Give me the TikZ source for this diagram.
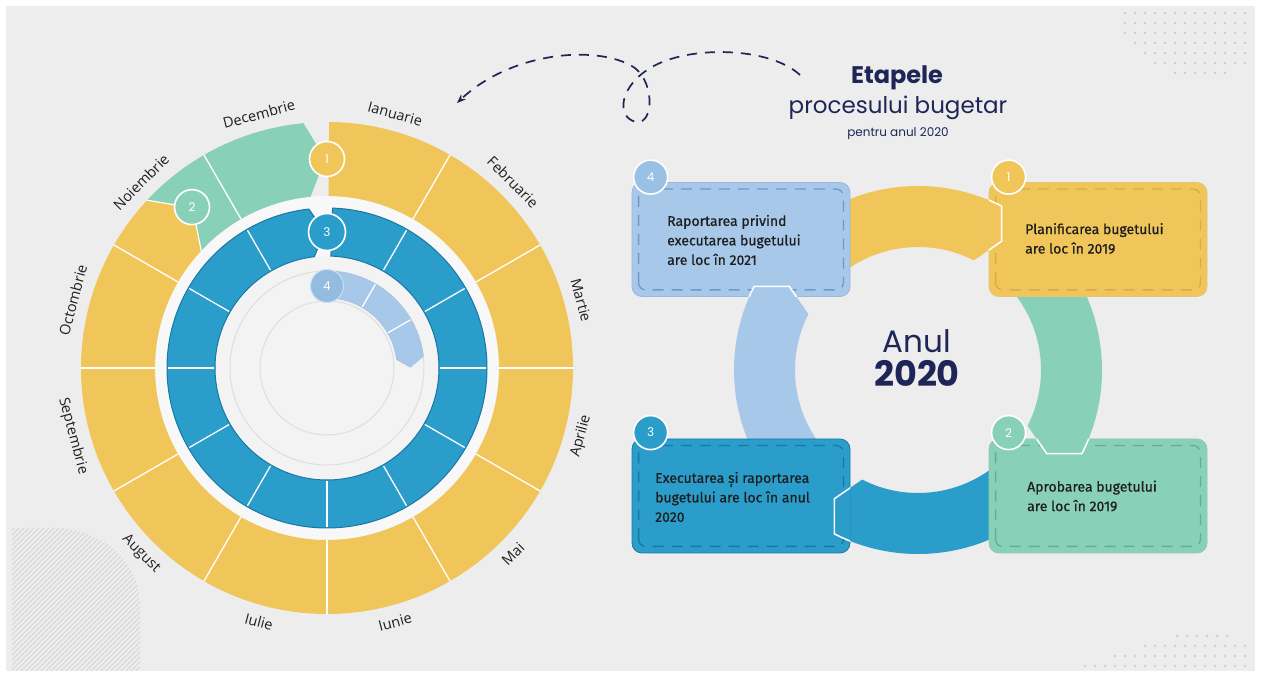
\documentclass[tikz,border=0pt]{standalone}
\usepackage{fontspec}
\usetikzlibrary{arrows.meta}
\setmainfont{Open Sans}
\newfontfamily\popfont{Poppins}
\newfontfamily\firafont{Fira Sans}[FakeBold=0.7]
\definecolor{bg}{HTML}{EDEDED}
\definecolor{yel}{HTML}{F0C65B}
\definecolor{yelb}{HTML}{D9AC3F}
\definecolor{grn}{HTML}{88D1B8}
\definecolor{grnb}{HTML}{62AE94}
\definecolor{blu}{HTML}{2A9DCB}
\definecolor{blub}{HTML}{1A78A2}
\definecolor{lbl}{HTML}{A8C8EA}
\definecolor{lblb}{HTML}{6F98CC}
\definecolor{navy}{HTML}{1D2656}
\definecolor{ringw}{HTML}{F8F8F8}
\definecolor{innerw}{HTML}{F3F3F3}
\definecolor{faint}{HTML}{DEDEDE}
\definecolor{dotcol}{HTML}{CFCFCF}
\definecolor{hatchcol}{HTML}{D4D4D4}
\definecolor{monthtxt}{HTML}{1F1F1F}
\definecolor{boxtxtc}{HTML}{1E1E1E}
\newcommand\mybandpath[2]{(#1:184) arc[start angle=#1, end angle=#2+6, radius=184] -- (#2:153.5) -- (#2+6:123) arc[start angle=#2+6, end angle=#1, radius=123] -- cycle}
\tikzset{
  month/.style={font=\fontsize{14.5}{14.5}\selectfont, text=monthtxt, inner sep=0pt},
  numc/.style={circle, minimum size=35pt, draw=white, line width=1.6pt, text=white, font=\popfont\fontsize{12}{12}\selectfont, inner sep=0pt},
  divline/.style={white, line width=1.3pt},
  boxbase/.style={rounded corners=10pt, minimum width=218pt, minimum height=114pt, line width=0.8pt, inner sep=0pt},
  innerdash/.style={rounded corners=7pt, line width=1.3pt, dash pattern=on 11pt off 8pt},
  boxtxt/.style={font=\firafont\fontsize{14}{19.5}\selectfont, align=left, anchor=west, text=boxtxtc, inner sep=0pt},
  hatch/.style={draw=hatchcol, line width=0.8pt},
  tipline/.style={draw=white, line width=1.5pt},
}
\begin{document}
\begin{tikzpicture}[x=1pt,y=1pt]
\useasboundingbox (0,0) rectangle (1261,677);
\fill[white] (0,0) rectangle (1261,677);
\fill[bg] (6,6) rectangle (1255,671);

% hatch bottom-left
\begin{scope}
  \clip (12,6) -- (12,149) -- (60,149) .. controls (110,145) and (140,110) .. (140,70) -- (140,6) -- cycle;
  \foreach \i in {-150,-145,...,145} \draw[hatch] (\i,0) -- ++(160,160);
\end{scope}

% dots
\foreach \yy/\a/\n in {664/1125/12, 654/1125/12, 644/1125/12, 634/1135/11, 624/1145/10, 614/1155/9, 604/1175/5, 41/1177/5, 31/1145/10, 21/1115/13, 11/1085/16}
  \foreach \k in {0,...,\n} \fill[dotcol] (\a+10*\k,\yy) circle[radius=1.3];

% ===== left circle =====
\begin{scope}[shift={(327,309)}]
  \fill[ringw] (0,0) circle[radius=172];
  \fill[innerw] (0,0) circle[radius=112];
  \draw[faint, line width=1pt] (0,0) circle[radius=97];
  \draw[faint, line width=1pt] (0,0) circle[radius=67];
  % blue ring (3)
  \fill[blu, draw=blub, line width=1pt] (88:160) arc[start angle=88,end angle=-263.5,radius=160] -- (-269:136) -- (-263.5:112) arc[start angle=-263.5,end angle=88,radius=112] -- cycle;
  \foreach \a in {60,30,...,-180} \draw[divline] (\a:113) -- (\a:159);
  \foreach \a in {150,120} \draw[divline] (\a:113) -- (\a:159);
  % light blue arc (4)
  \fill[lbl, draw=lblb!60, line width=0.6pt] (86:97) arc[start angle=86,end angle=7,radius=97] -- (0.5:83.5) -- (7:70) arc[start angle=7,end angle=86,radius=70] -- cycle;
  \foreach \a in {60,30} \draw[divline] (\a:70.5) -- (\a:96.5);
  % yellow ring (1)
  \fill[yel] (89.5:246) arc[start angle=89.5,end angle=-223,radius=246] -- (-230:209) -- (-223:172) arc[start angle=-223,end angle=89.5,radius=172] -- cycle;
  % green ring (2)
  \fill[grn] (-223:246) arc[start angle=-223,end angle=-264.5,radius=246] -- (-269.5:209) -- (-264.5:172) arc[start angle=-264.5,end angle=-223,radius=172] -- (-230:209) -- cycle;
  \draw[white, line width=1.2pt] (-223:246) -- (-230:209) -- (-223:172);
  \foreach \a in {60,30,...,-180} \draw[divline] (\a:172) -- (\a:246);
  \foreach \a in {150,120} \draw[divline] (\a:172) -- (\a:246);
  % number circles
  \node[numc, fill=yel] (c1) at (90:209) {1};
  \node[numc, fill=grn] (c2) at (130:210) {2};
  \node[numc, fill=blu, minimum size=37pt] (c3) at (90:136) {3};
  \node[numc, fill=lbl!85!blub, draw=lbl!60!white, line width=1pt, minimum size=33pt] (c4) at (90:82) {4};
  % month labels
  \foreach \a/\t in {75/Ianuarie, 45/Februarie, 15/Martie, 165/Octombrie, 135/Noiembrie, 105/Decembrie}
    \node[month, rotate=\a-90] (m\a) at (\a:263) {\t};
  \foreach \a/\t in {-15/Aprilie, -45/Mai, -75/Iunie, -105/Iulie, -135/August, -165/Septembrie}
    \node[month, rotate=\a+90] (m\a) at (\a:263) {\t};
\end{scope}

% ===== dashed arrow =====
\coordinate (arrS) at (800,602);
\coordinate (arrE) at (457,574);
\draw[navy, line width=1.7pt, dash pattern=on 10pt off 8pt, -{Stealth[length=9pt,width=7pt]}]
  (arrS) .. controls (770,630) and (690,632) .. (652,610)
  .. controls (620,592) and (615,560) .. (636,555)
  .. controls (655,552) and (655,600) .. (630,612)
  .. controls (592,632) and (510,624) .. (arrE);

% ===== titles =====
\node[text=navy, font=\popfont\bfseries\fontsize{24}{24}\selectfont, inner sep=0pt] (title1) at (897,599) {Etapele};
\node[text=navy, font=\popfont\fontsize{23}{23}\selectfont, inner sep=0pt] (title2) at (898,569) {procesului bugetar};
\node[text=navy, font=\popfont\fontsize{12}{12}\selectfont, inner sep=0pt] (title3) at (898,543) {pentru anul 2020};
\node[text=navy, font=\popfont\fontsize{31}{31}\selectfont, inner sep=0pt] (anul) at (917,336) {Anul};
\node[text=navy, font=\popfont\bfseries\fontsize{35}{35}\selectfont, inner sep=0pt] (year) at (917,304) {2020};

% ===== bands (under boxes) =====
\fill[yel, shift={(918,307)}] \mybandpath{135}{57};
\fill[grn, shift={(918,307)}] \mybandpath{45}{-33};
\fill[blu, shift={(918,307)}] \mybandpath{-45}{-123};
\fill[lbl, shift={(918,307)}] \mybandpath{-135}{-213};

% ===== boxes =====
\node[boxbase, fill=lbl, draw=lblb!70] (b4) at (741,437.5) {};
\node[boxbase, fill=yel, draw=yelb!70] (b1) at (1098,437.5) {};
\node[boxbase, fill=blu, draw=blub] (b3) at (741,181) {};
\node[boxbase, fill=grn, draw=grnb!70] (b2) at (1098,181) {};
\draw[innerdash, draw=lblb] ([shift={(7,7)}]b4.south west) rectangle ([shift={(-7,-7)}]b4.north east);
\draw[innerdash, draw=yelb] ([shift={(7,7)}]b1.south west) rectangle ([shift={(-7,-7)}]b1.north east);
\draw[innerdash, draw=blub] ([shift={(7,7)}]b3.south west) rectangle ([shift={(-7,-7)}]b3.north east);
\draw[innerdash, draw=grnb] ([shift={(7,7)}]b2.south west) rectangle ([shift={(-7,-7)}]b2.north east);

% ===== band tips over destination boxes =====
\begin{scope}
  \clip[rounded corners=10pt] (b1.south west) rectangle (b1.north east);
  \fill[yel, tipline, shift={(918,307)}] \mybandpath{135}{57};
\end{scope}
\begin{scope}
  \clip[rounded corners=10pt] (b2.south west) rectangle (b2.north east);
  \fill[grn, tipline, shift={(918,307)}] \mybandpath{45}{-33};
\end{scope}
\begin{scope}
  \clip[rounded corners=10pt] (b3.south west) rectangle (b3.north east);
  \fill[blu, tipline, shift={(918,307)}] \mybandpath{-45}{-123};
\end{scope}
\begin{scope}
  \clip[rounded corners=10pt] (b4.south west) rectangle (b4.north east);
  \fill[lbl, tipline, shift={(918,307)}] \mybandpath{-135}{-213};
\end{scope}

% ===== box numbers =====
\node[numc, fill=lbl!90!blub, minimum size=34pt] (n4) at ([shift={(19,5)}]b4.north west) {4};
\node[numc, fill=yel, minimum size=34pt] (n1) at ([shift={(20,5)}]b1.north west) {1};
\node[numc, fill=blu, minimum size=34pt] (n3) at ([shift={(19,6)}]b3.north west) {3};
\node[numc, fill=grn, minimum size=34pt] (n2) at ([shift={(20,6)}]b2.north west) {2};

% ===== box texts =====
\node[boxtxt] (t4) at (667,437) {Raportarea privind\\executarea bugetului\\are loc în 2021};
\node[boxtxt] (t1) at (1025,438.5) {Planificarea bugetului\\are loc în 2019};
\node[boxtxt] (t3) at (655,180) {Executarea și raportarea\\bugetului are loc în anul\\2020};
\node[boxtxt] (t2) at (1027,181) {Aprobarea bugetului\\are loc în 2019};
\end{tikzpicture}
\end{document}
